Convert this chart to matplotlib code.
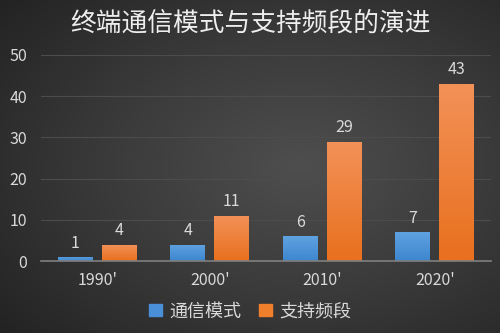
import numpy as np
import matplotlib
matplotlib.use("Agg")
import matplotlib.pyplot as plt
from matplotlib.colors import LinearSegmentedColormap
from matplotlib.patches import Patch

plt.rcParams['font.family'] = ['Noto Sans CJK SC', 'DejaVu Sans']

categories = ["1990'", "2000'", "2010'", "2020'"]
modes = [1, 4, 6, 7]
bands = [4, 11, 29, 43]
series_names = ["通信模式", "支持频段"]
title = "终端通信模式与支持频段的演进"

fig = plt.figure(figsize=(5, 3.33), dpi=100)

# background radial gradient
bg = fig.add_axes([0, 0, 1, 1], zorder=-10)
yy, xx = np.mgrid[0:1:200j, 0:1:300j]
r = np.sqrt(((xx - 0.6) / 0.8) ** 2 + ((yy - 0.5) / 0.8) ** 2)
bgcmap = LinearSegmentedColormap.from_list("bg", ["#4e4e4e", "#3a3a3a", "#232323"])
bg.imshow(np.clip(r, 0, 1), cmap=bgcmap, extent=[0, 1, 0, 1], aspect='auto', origin='lower')
bg.axis('off')

ax = fig.add_axes([0.082, 0.216, 0.9, 0.619])
ax.set_facecolor('none')
x = np.arange(len(categories))
w = 0.31
off = 0.195
b1 = ax.bar(x - off, modes, w, color='#4a90d9', zorder=3)
b2 = ax.bar(x + off, bands, w, color='#f07f2b', zorder=3)

# vertical gradient fill within bars
def grad(bars, top, bottom):
    cm = LinearSegmentedColormap.from_list("g", [bottom, top])
    for b in bars:
        x0, y0 = b.get_x(), b.get_y()
        x1, y1 = x0 + b.get_width(), y0 + b.get_height()
        g = np.linspace(0, 1, 100).reshape(-1, 1)
        im = ax.imshow(g, cmap=cm, extent=[x0, x1, y0, y1], origin='lower',
                       aspect='auto', zorder=4)
        im.set_clip_path(b)
grad(b1, '#5fa2e0', '#3d86cf')
grad(b2, '#f39158', '#e8701e')

for bars, vals in ((b1, modes), (b2, bands)):
    for b, v in zip(bars, vals):
        ax.text(b.get_x() + b.get_width() / 2, v + 1.3, str(v), ha='center', va='bottom',
                color='#d9d9d9', fontsize=11.5)

ax.set_xlim(-0.5, 3.5)
ax.set_ylim(0, 50)
ax.set_yticks([0, 10, 20, 30, 40, 50])
ax.set_xticks(x)
ax.set_xticklabels(categories)
ax.tick_params(axis='both', length=0, colors='#d9d9d9', labelsize=11.5)
ax.tick_params(axis='y', pad=10)
ax.tick_params(axis='x', pad=8)
ax.grid(axis='y', color='#4c4c4c', linewidth=0.8, zorder=0)
for s in ['top', 'right', 'left']:
    ax.spines[s].set_visible(False)
ax.spines['bottom'].set_color('#7f7f7f')
ax.spines['bottom'].set_linewidth(1.2)
ax.spines['bottom'].set_zorder(5)

fig.text(0.5, 0.93, title, ha='center', va='center', color='#eeeeee', fontsize=18.5)

handles = [Patch(color='#4a90d9'), Patch(color='#f07f2b')]
fig.legend(handles, series_names, loc='center', bbox_to_anchor=(0.5, 0.065), ncol=2,
           frameon=False, fontsize=13, labelcolor='#d9d9d9', handlelength=0.7,
           handleheight=0.7, handletextpad=0.4, columnspacing=1.0)

fig.savefig('out.png', dpi=100)
